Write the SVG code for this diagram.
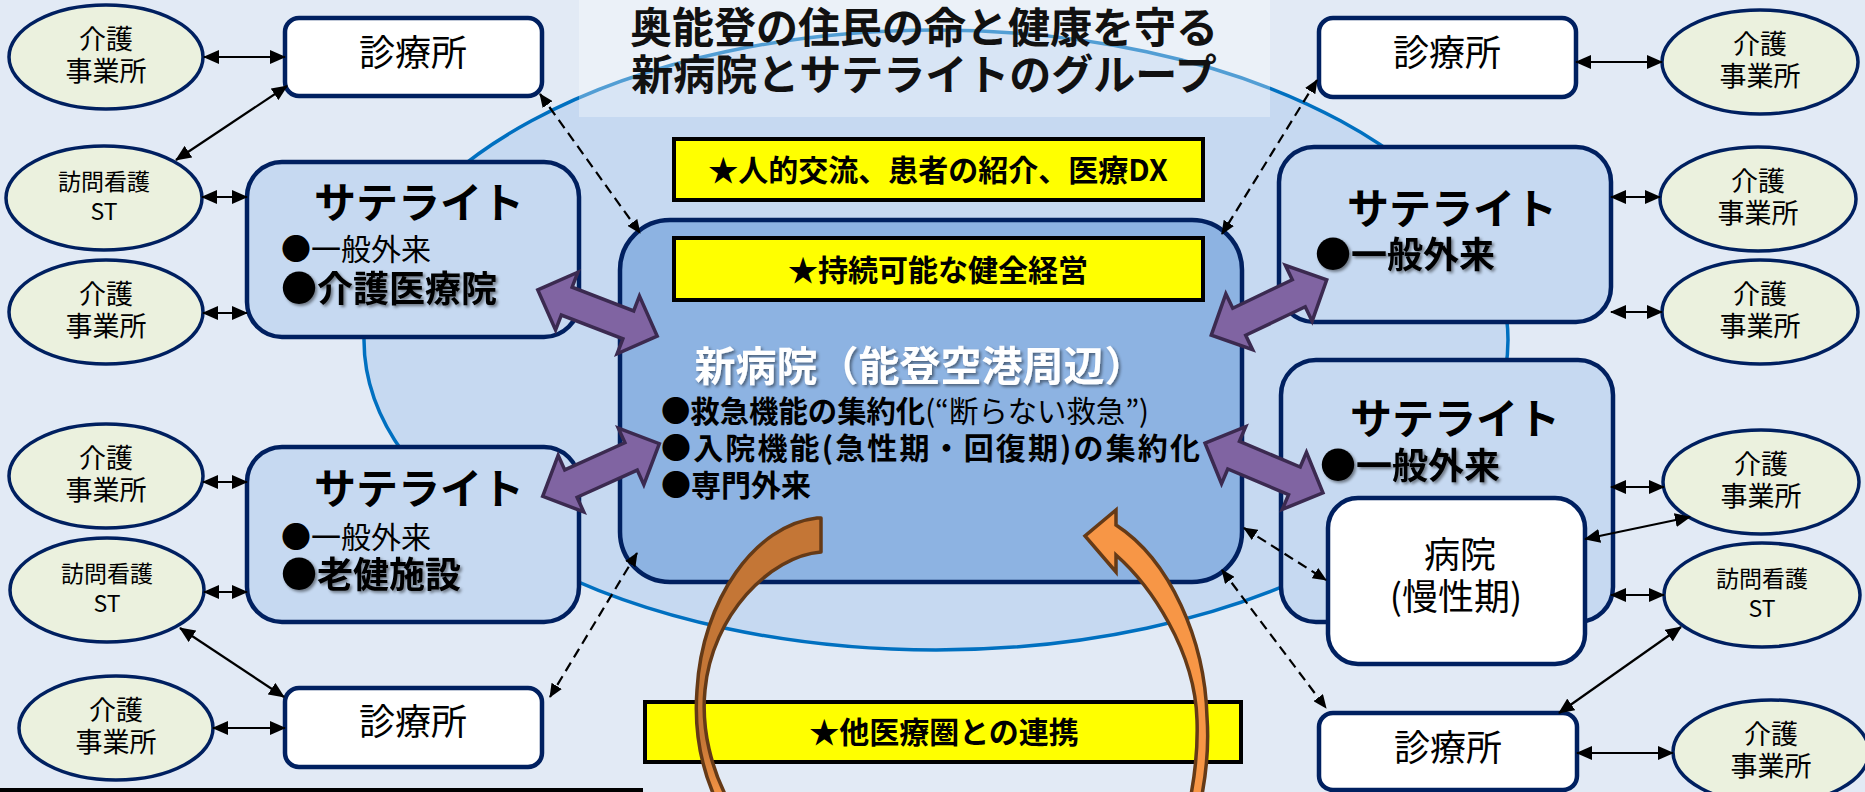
<svg xmlns="http://www.w3.org/2000/svg" width="1865" height="792" viewBox="0 0 1865 792">
<style>
.jp{font-family:"Noto Sans CJK JP","Noto Sans CJK SC",sans-serif;}
.b{font-weight:bold;}
.n{font-weight:normal;}
.mid{text-anchor:middle;}
.care{fill:#EBF1DE;stroke:#002060;stroke-width:3.5;}
.sat{fill:#C6D9F1;stroke:#002060;stroke-width:4.5;}
.white{fill:#FFFFFF;stroke:#002060;stroke-width:4.5;}
.yel{fill:#FFFF00;stroke:#000;stroke-width:4;}
.solid{stroke:#000;stroke-width:2.2;fill:none;marker-start:url(#ah);marker-end:url(#ah);}
.dash{stroke:#000;stroke-width:2.2;fill:none;stroke-dasharray:10 6;marker-start:url(#ahd);marker-end:url(#ahd);}
.purple{fill:#8064A2;stroke:#3B2A50;stroke-width:3.5;stroke-linejoin:miter;}
.t27{font-size:27px;}
.t23{font-size:23px;}
.t36{font-size:36px;}
</style>
<defs>
<marker id="ah" viewBox="0 0 16 14" refX="15" refY="7" markerWidth="16" markerHeight="14" markerUnits="userSpaceOnUse" orient="auto-start-reverse"><path d="M0,0 L16,7 L0,14 z" fill="#000"/></marker>
<marker id="ahd" viewBox="0 0 14 12" refX="13" refY="6" markerWidth="14" markerHeight="12" markerUnits="userSpaceOnUse" orient="auto-start-reverse"><path d="M0,0 L14,6 L0,12 z" fill="#000"/></marker>
<filter id="ts" x="-10%" y="-30%" width="130%" height="180%"><feDropShadow dx="2" dy="2" stdDeviation="1.5" flood-color="#000" flood-opacity="0.45"/></filter>
<path id="dbl" d="M-64,0 L-33,-31 L-33,-15 L33,-15 L33,-31 L64,0 L33,31 L33,15 L-33,15 L-33,31 Z"/>
<linearGradient id="og" gradientUnits="userSpaceOnUse" x1="0" y1="518" x2="0" y2="800">
<stop offset="0" stop-color="#C47636"/><stop offset="0.78" stop-color="#C47636"/><stop offset="1" stop-color="#F79646"/>
</linearGradient>
</defs>

<rect x="0" y="0" width="1865" height="792" fill="#E2EAF5"/>
<ellipse id="group-ellipse" cx="936" cy="340" rx="572" ry="310" fill="#C6D9F1" stroke="#0070C0" stroke-width="3.5"/>

<g id="title">
<rect x="579" y="0" width="691" height="117" fill="#FFFFFF" fill-opacity="0.32"/>
<text class="jp b mid" x="924" y="43" font-size="42" fill="#111">奥能登の住民の命と健康を守る</text>
<text class="jp b mid" x="924" y="90" font-size="42" fill="#111">新病院とサテライトのグループ</text>
</g>

<g id="banner-exchange">
<rect class="yel" x="674" y="139" width="529" height="61"/>
<text class="jp b mid" x="938" y="181" font-size="30">★人的交流、患者の紹介、医療DX</text>
</g>

<g id="new-hospital">
<rect x="620" y="220" width="622" height="362" rx="50" fill="#8DB3E2" stroke="#002060" stroke-width="4.5"/>
<text class="jp b mid" x="920" y="381" font-size="41" fill="#FFFFFF" filter="url(#ts)">新病院（能登空港周辺）</text>
<text class="jp b" x="661" y="422" font-size="30" textLength="488" lengthAdjust="spacingAndGlyphs">●救急機能の集約化<tspan class="n">(“断らない救急”)</tspan></text>
<text class="jp b" x="661" y="459" font-size="30" textLength="539" lengthAdjust="spacing">●入院機能(急性期・回復期)の集約化</text>
<text class="jp b" x="661" y="496" font-size="30">●専門外来</text>
</g>

<g id="banner-management">
<rect class="yel" x="674" y="238" width="529" height="62"/>
<text class="jp b mid" x="938" y="281" font-size="30">★持続可能な健全経営</text>
</g>

<g id="banner-other-areas">
<rect class="yel" x="645" y="702" width="596" height="60"/>
<text class="jp b mid" x="944" y="743" font-size="30">★他医療圏との連携</text>
</g>

<g id="satellite-left-top">
<rect class="sat" x="247" y="162" width="332" height="175" rx="35"/>
<text class="jp b mid" x="419" y="218" font-size="42">サテライト</text>
<text class="jp n" x="281" y="260" font-size="30">●一般外来</text>
<text class="jp b" x="281" y="302" font-size="36" filter="url(#ts)">●介護医療院</text>
</g>

<g id="satellite-left-bottom">
<rect class="sat" x="247" y="447" width="332" height="175" rx="35"/>
<text class="jp b mid" x="419" y="504" font-size="42">サテライト</text>
<text class="jp n" x="281" y="548" font-size="30">●一般外来</text>
<text class="jp b" x="281" y="588" font-size="36" filter="url(#ts)">●老健施設</text>
</g>

<g id="satellite-right-top">
<rect class="sat" x="1279" y="147" width="332" height="175" rx="35"/>
<text class="jp b mid" x="1452" y="224" font-size="42">サテライト</text>
<text class="jp b" x="1315" y="268" font-size="36" filter="url(#ts)">●一般外来</text>
</g>

<g id="satellite-right-bottom">
<rect class="sat" x="1281" y="360" width="332" height="262" rx="35"/>
<text class="jp b mid" x="1455" y="434" font-size="42">サテライト</text>
<text class="jp b" x="1320" y="479" font-size="36" filter="url(#ts)">●一般外来</text>
</g>

<g id="hospital-chronic">
<rect class="white" x="1328" y="498" width="257" height="166" rx="30"/>
<text class="jp n mid t36" x="1460" y="568">病院</text>
<text class="jp n mid t36" x="1456" y="610">(慢性期)</text>
</g>

<g id="clinic-left-top">
<rect class="white" x="285" y="18" width="257" height="78" rx="14"/>
<text class="jp n mid t36" x="413" y="66">診療所</text>
</g>
<g id="clinic-left-bottom">
<rect class="white" x="285" y="688" width="257" height="79" rx="14"/>
<text class="jp n mid t36" x="413" y="735">診療所</text>
</g>
<g id="clinic-right-top">
<rect class="white" x="1319" y="18" width="257" height="79" rx="14"/>
<text class="jp n mid t36" x="1447" y="66">診療所</text>
</g>
<g id="clinic-right-bottom">
<rect class="white" x="1319" y="713" width="258" height="77" rx="14"/>
<text class="jp n mid t36" x="1448" y="761">診療所</text>
</g>

<g id="care-L1"><ellipse class="care" cx="106" cy="57" rx="97" ry="52"/>
<text class="jp n mid t27" x="106" y="49">介護</text><text class="jp n mid t27" x="106" y="81">事業所</text></g>
<g id="nurse-L2"><ellipse class="care" cx="104" cy="198" rx="98" ry="52"/>
<text class="jp n mid t23" x="104" y="190">訪問看護</text><text class="jp n mid t23" x="104" y="220">ST</text></g>
<g id="care-L3"><ellipse class="care" cx="106" cy="312" rx="97" ry="52"/>
<text class="jp n mid t27" x="106" y="304">介護</text><text class="jp n mid t27" x="106" y="336">事業所</text></g>
<g id="care-L4"><ellipse class="care" cx="106" cy="476" rx="97" ry="52"/>
<text class="jp n mid t27" x="106" y="468">介護</text><text class="jp n mid t27" x="106" y="500">事業所</text></g>
<g id="nurse-L5"><ellipse class="care" cx="107" cy="590" rx="97" ry="52"/>
<text class="jp n mid t23" x="107" y="582">訪問看護</text><text class="jp n mid t23" x="107" y="612">ST</text></g>
<g id="care-L6"><ellipse class="care" cx="116" cy="728" rx="97" ry="52"/>
<text class="jp n mid t27" x="116" y="720">介護</text><text class="jp n mid t27" x="116" y="752">事業所</text></g>

<g id="care-R1"><ellipse class="care" cx="1760" cy="62" rx="98" ry="52"/>
<text class="jp n mid t27" x="1760" y="54">介護</text><text class="jp n mid t27" x="1760" y="86">事業所</text></g>
<g id="care-R2"><ellipse class="care" cx="1758" cy="199" rx="98" ry="52"/>
<text class="jp n mid t27" x="1758" y="191">介護</text><text class="jp n mid t27" x="1758" y="223">事業所</text></g>
<g id="care-R3"><ellipse class="care" cx="1760" cy="312" rx="98" ry="52"/>
<text class="jp n mid t27" x="1760" y="304">介護</text><text class="jp n mid t27" x="1760" y="336">事業所</text></g>
<g id="care-R4"><ellipse class="care" cx="1761" cy="482" rx="98" ry="52"/>
<text class="jp n mid t27" x="1761" y="474">介護</text><text class="jp n mid t27" x="1761" y="506">事業所</text></g>
<g id="nurse-R5"><ellipse class="care" cx="1762" cy="595" rx="98" ry="52"/>
<text class="jp n mid t23" x="1762" y="587">訪問看護</text><text class="jp n mid t23" x="1762" y="617">ST</text></g>
<g id="care-R6"><ellipse class="care" cx="1771" cy="752" rx="98" ry="52"/>
<text class="jp n mid t27" x="1771" y="744">介護</text><text class="jp n mid t27" x="1771" y="776">事業所</text></g>

<g id="connectors">
<line class="solid" x1="204" y1="57" x2="285" y2="57"/>
<line class="solid" x1="287" y1="86" x2="176" y2="160"/>
<line class="solid" x1="202" y1="197" x2="247" y2="197"/>
<line class="solid" x1="203" y1="313" x2="247" y2="313"/>
<line class="solid" x1="203" y1="482" x2="247" y2="482"/>
<line class="solid" x1="204" y1="592" x2="247" y2="592"/>
<line class="solid" x1="180" y1="628" x2="284" y2="697"/>
<line class="solid" x1="213" y1="728" x2="285" y2="728"/>
<line class="solid" x1="1576" y1="62" x2="1662" y2="62"/>
<line class="solid" x1="1611" y1="197" x2="1660" y2="197"/>
<line class="solid" x1="1611" y1="312" x2="1662" y2="312"/>
<line class="solid" x1="1611" y1="487" x2="1664" y2="487"/>
<line class="solid" x1="1585" y1="539" x2="1690" y2="517"/>
<line class="solid" x1="1611" y1="595" x2="1664" y2="595"/>
<line class="solid" x1="1681" y1="627" x2="1559" y2="713"/>
<line class="solid" x1="1577" y1="753" x2="1673" y2="753"/>

<line class="dash" x1="540" y1="94" x2="640" y2="233"/>
<line class="dash" x1="1317" y1="80" x2="1222" y2="234"/>
<line class="dash" x1="637" y1="553" x2="550" y2="697"/>
<line class="dash" x1="1244" y1="528" x2="1326" y2="580"/>
<line class="dash" x1="1222" y1="570" x2="1326" y2="708"/>

<use href="#dbl" class="purple" transform="translate(597.5,313) rotate(21.1)"/>
<use href="#dbl" class="purple" transform="translate(601,470) rotate(-24.3)"/>
<use href="#dbl" class="purple" transform="translate(1269,307.5) rotate(-25.6)"/>
<use href="#dbl" class="purple" transform="translate(1264,468) rotate(22.9)"/>

<path d="M821,518 L821,552 C770,556 712,615 705,690 C701,730 712,770 728,800 L716,800 C700,765 694,730 697,690 C702,600 755,525 817,518 Z" fill="url(#og)" stroke="#653A17" stroke-width="3.5" stroke-linejoin="round"/>
<path d="M1116,525 L1116,510 L1085,536 L1116,572 L1116,555 C1150,585 1195,650 1197,720 C1198,750 1195,775 1190,800 L1201,800 C1206,775 1209,745 1207,717 C1205,640 1170,560 1116,525 Z" fill="#F79646" stroke="#653A17" stroke-width="3.5" stroke-linejoin="miter"/>
</g>

<rect x="0" y="788" width="643" height="4" fill="#000"/>
</svg>
